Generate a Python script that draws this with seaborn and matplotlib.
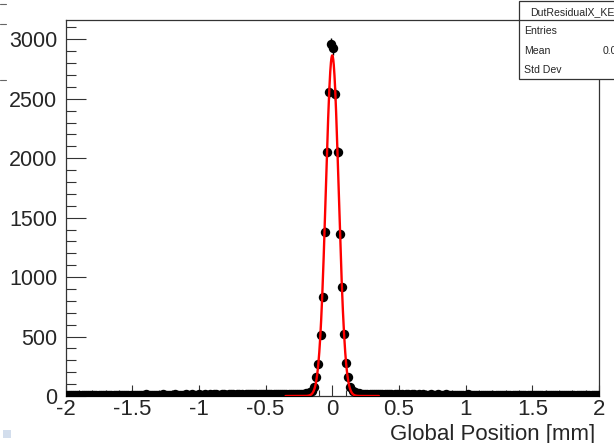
"""
plot.py

ROOT-style residual histogram with gaussian fit, redrawn with seaborn
"""

import numpy as np
import pandas as pd
import matplotlib
matplotlib.use("Agg")
import matplotlib.pyplot as plt
from matplotlib.patches import Rectangle
from matplotlib.lines import Line2D
from matplotlib.ticker import MultipleLocator, FixedLocator, FixedFormatter
import seaborn as sns

# histogram binning
X_MIN, X_MAX = -2.0, 2.0
N_BINS = 250

# bin contents (background estimated)
counts = [
    7, 9, 8, 6, 10, 8, 7, 9, 11, 8,
    9, 7, 10, 8, 9, 12, 8, 7, 10, 9,
    8, 11, 9, 10, 7, 9, 12, 10, 8, 9,
    10, 9, 11, 8, 12, 9, 10, 13, 9, 11,
    10, 12, 9, 11, 10, 13, 11, 9, 12, 10,
    11, 13, 10, 12, 11, 10, 14, 12, 11, 13,
    12, 11, 13, 10, 12, 14, 11, 13, 12, 15,
    13, 12, 11, 14, 13, 12, 15, 13, 14, 12,
    14, 13, 15, 12, 14, 16, 13, 15, 14, 13,
    15, 14, 16, 15, 13, 17, 15, 14, 16, 15,
    14, 15, 13, 16, 15, 14, 16, 17, 15, 18,
    17, 19, 22, 26, 31, 42, 73, 157, 269, 513,
    834, 1381, 2053, 2557, 2958, 2924, 2543, 2053, 1361, 918,
    521, 280, 162, 78, 45, 32, 26, 22, 19, 17,
    18, 15, 16, 14, 17, 15, 13, 16, 14, 15,
    13, 15, 14, 12, 16, 14, 13, 15, 12, 14,
    13, 12, 14, 13, 11, 14, 12, 13, 11, 12,
    12, 13, 11, 12, 14, 11, 12, 10, 13, 11,
    11, 10, 12, 11, 9, 12, 10, 11, 13, 10,
    10, 11, 9, 12, 10, 9, 11, 10, 8, 11,
    9, 10, 8, 11, 9, 10, 8, 9, 11, 8,
    9, 8, 10, 7, 9, 8, 10, 9, 7, 8,
    8, 9, 7, 8, 10, 7, 8, 9, 6, 8,
    7, 8, 9, 7, 6, 8, 7, 9, 8, 7,
    6, 8, 7, 9, 7, 6, 8, 7, 6, 7,
]

# gaussian fit parameters
fit_amplitude = 2865.0
fit_mean = 0.0
fit_sigma = 0.048
fit_range = (-0.35, 0.35)

x_ticks = [-2, -1.5, -1, -0.5, 0, 0.5, 1, 1.5, 2]
x_tick_labels = ["-2", "-1.5", "-1", "-0.5", "0", "0.5", "1", "1.5", "2"]
y_ticks = [0, 500, 1000, 1500, 2000, 2500, 3000]
y_tick_labels = ["0", "500", "1000", "1500", "2000", "2500", "3000"]
x_label = "Global Position [mm]"
stats_title = "DutResidualX_KE"
stats_rows = ["Entries", "Mean", "Std Dev"]
stats_mean_value = "0.0"

W, H = 614, 443


def main() -> None:
    sns.set_style("ticks")
    plt.rcParams["font.family"] = ["Liberation Sans", "DejaVu Sans"]
    plt.rcParams["axes.unicode_minus"] = False

    edges = np.linspace(X_MIN, X_MAX, N_BINS + 1)
    centers = 0.5 * (edges[:-1] + edges[1:])
    y = np.array(counts, dtype=float)
    err = np.sqrt(y)
    hist_df = pd.DataFrame({"x": centers, "n": y, "err": err})

    xf = np.linspace(fit_range[0], fit_range[1], 400)
    fit_df = pd.DataFrame({
        "x": xf,
        "f": fit_amplitude * np.exp(-0.5 * ((xf - fit_mean) / fit_sigma) ** 2),
    })

    fig = plt.figure(figsize=(W / 100, H / 100), dpi=100)
    fig.patch.set_facecolor("white")
    ax = fig.add_axes([65.5 / W, 47 / H, 533.5 / W, 376 / H])
    ax.set_facecolor("white")

    # error bars + markers
    ax.vlines(hist_df["x"], hist_df["n"] - hist_df["err"], hist_df["n"] + hist_df["err"],
              color="black", lw=1.0, zorder=2)
    sns.scatterplot(data=hist_df, x="x", y="n", ax=ax, color="black", s=46,
                    edgecolor="black", linewidth=0, zorder=3, legend=False)
    # fit curve
    sns.lineplot(data=fit_df, x="x", y="f", ax=ax, color="#ff0000", lw=1.7,
                 zorder=4, legend=False)

    ax.set_xlim(X_MIN, X_MAX)
    ax.set_ylim(0, 1.05 * (y.max() + np.sqrt(y.max())))
    ax.set_xlabel("")
    ax.set_ylabel("")

    ax.xaxis.set_major_locator(FixedLocator(x_ticks))
    ax.xaxis.set_major_formatter(FixedFormatter(x_tick_labels))
    ax.xaxis.set_minor_locator(MultipleLocator(0.1))
    ax.yaxis.set_major_locator(FixedLocator(y_ticks))
    ax.yaxis.set_major_formatter(FixedFormatter(y_tick_labels))
    ax.yaxis.set_minor_locator(MultipleLocator(100))

    ax.tick_params(axis="x", which="major", direction="in", length=8, width=0.8,
                   top=False, labelsize=16, pad=2, color="#333333")
    ax.tick_params(axis="x", which="minor", direction="in", length=4, width=0.8,
                   top=False, color="#333333")
    ax.tick_params(axis="y", which="major", direction="in", length=14.5, width=0.8,
                   right=False, labelsize=15.5, pad=6, color="#333333")
    ax.tick_params(axis="y", which="minor", direction="in", length=7.2, width=0.8,
                   right=False, color="#333333")
    for s in ax.spines.values():
        s.set_visible(True)
        s.set_linewidth(0.9)
        s.set_color("#333333")

    fig.text(595 / W, 3 / H, x_label, ha="right", va="baseline", fontsize=16)

    # stats box (cut off by the canvas edge, as in the original)
    x0, x1 = 519 / W, 1.0
    top, sep, bot = 1 - 1 / H, 1 - 20 / H, 1 - 79 / H
    fig.add_artist(Rectangle((x0, bot), x1 - x0 + 0.01, top - bot, transform=fig.transFigure,
                             facecolor="white", edgecolor="#333333", lw=0.9, zorder=5))
    fig.add_artist(Line2D([x0, x1], [sep, sep], transform=fig.transFigure,
                          color="#333333", lw=0.9, zorder=6))
    fig.text(530 / W, 1 - 12 / H, stats_title, ha="left", va="center",
             fontsize=7.6, zorder=7)
    for i, row in enumerate(stats_rows):
        fig.text(524 / W, 1 - (31 + 19.5 * i) / H, row, ha="left", va="center",
                 fontsize=7.6, zorder=7)
    fig.text(603 / W, 1 - 50.5 / H, stats_mean_value, ha="left", va="center",
             fontsize=7.6, zorder=7)

    # small canvas leftovers at the left edge and bottom-left corner
    for yy in (4, 24, 80):
        fig.add_artist(Line2D([0, 6 / W], [1 - yy / H, 1 - yy / H], transform=fig.transFigure,
                              color="#666666", lw=0.8))
    fig.add_artist(Rectangle((3 / W, 1 - 438 / H), 8 / W, 8 / H, transform=fig.transFigure,
                             facecolor="#d3deed", edgecolor="none"))

    fig.savefig("out.png", dpi=100, facecolor="white")
    plt.close(fig)


if __name__ == "__main__":
    main()
